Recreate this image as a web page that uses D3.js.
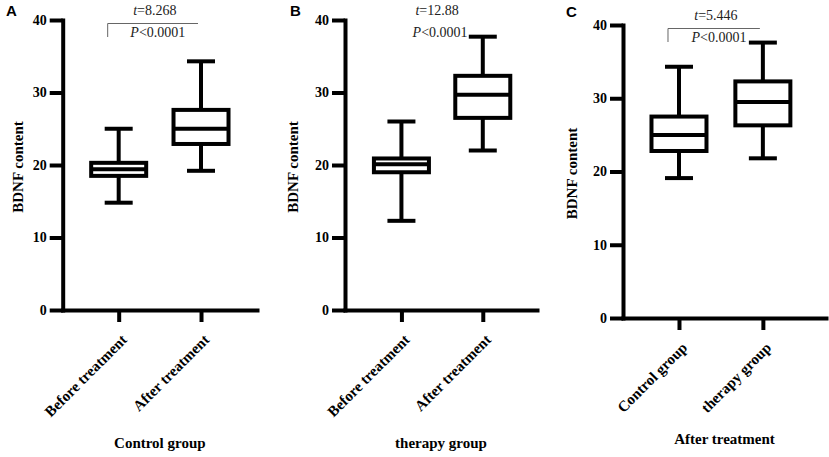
<!DOCTYPE html>
<html>
<head>
<meta charset="utf-8">
<script src="https://cdn.jsdelivr.net/npm/d3@7"></script>
<style>
  body { margin: 0; background: #fff; }
</style>
</head>
<body>
<script>
// chart values
const panelLetters = ["A", "B", "C"];
const groupTitles = ["Control group", "therapy group", "After treatment"];
const categoriesA = ["Before treatment", "After treatment"];
const categoriesB = ["Before treatment", "After treatment"];
const categoriesC = ["Control group", "therapy group"];

// [min, q1, median, q3, max]
const boxesA = [[14.8, 18.5, 19.4, 20.3, 25.0], [19.2, 22.9, 25.0, 27.6, 34.3]];
const boxesB = [[12.3, 19.0, 20.1, 20.9, 26.0], [22.0, 26.5, 29.7, 32.3, 37.7]];
const boxesC = [[19.1, 22.8, 25.0, 27.5, 34.3], [21.8, 26.3, 29.5, 32.3, 37.6]];

const tValues = ["8.268", "12.88", "5.446"];
const pValues = ["<0.0001", "<0.0001", "<0.0001"];
const yTicks = [0, 10, 20, 30, 40];

const categories = [categoriesA, categoriesB, categoriesC];
const boxes = [boxesA, boxesB, boxesC];

// layout of each panel
const layout = [
  { left: 62.7, right: 257, top: 20, bottom: 310, pad: 0.68, align: 0.5, yTitleX: 23, titleY: 448, letterX: 6, letterY: 16, bracket: true },
  { left: 345, right: 537, top: 20, bottom: 310, pad: 0.68, align: 0.51, yTitleX: 298, titleY: 448, letterX: 290, letterY: 16, bracket: false },
  { left: 623, right: 826, top: 25, bottom: 318, pad: 0.71, align: 0.47, yTitleX: 577, titleY: 444, letterX: 566, letterY: 17, bracket: true }
];

const serif = "'Liberation Serif', 'Times New Roman', serif";
const boxWidth = 55;
const capWidth = 28;
const lineW = 4;

let svg = d3.select("body").append("svg")
  .attr("width", 829)
  .attr("height", 457);

layout.forEach((L, i) => {
  let cats = categories[i];
  let g = svg.append("g");

  let x = d3.scalePoint().domain(cats).range([L.left, L.right]).padding(L.pad).align(L.align);
  let y = d3.scaleLinear().domain([0, 40]).range([L.bottom, L.top]);

  // y axis
  let yAxis = g.append("g")
    .attr("transform", `translate(${L.left},0)`)
    .call(d3.axisLeft(y).tickValues(yTicks).tickSize(13).tickPadding(3).tickSizeOuter(0));
  yAxis.attr("font-family", serif).attr("font-size", 14).attr("font-weight", "bold");
  yAxis.select(".domain").attr("stroke-width", lineW).attr("stroke-linecap", "square");
  yAxis.selectAll(".tick line").attr("stroke-width", lineW);
  yAxis.selectAll(".tick text").attr("fill", "#000");

  // x axis
  let xAxis = g.append("g")
    .attr("transform", `translate(0,${L.bottom})`)
    .call(d3.axisBottom(x).tickSize(12).tickSizeOuter(0));
  xAxis.attr("font-family", serif).attr("font-size", 15).attr("font-weight", "bold");
  xAxis.select(".domain").attr("stroke-width", lineW).attr("stroke-linecap", "square");
  xAxis.selectAll(".tick line").attr("stroke-width", lineW);
  xAxis.selectAll(".tick text")
    .attr("fill", "#000")
    .attr("x", 0)
    .attr("y", 0)
    .attr("dy", "0.35em")
    .attr("text-anchor", "end")
    .attr("transform", "translate(5,27) rotate(-45)");

  // boxes
  let bx = g.selectAll(".box")
    .data(boxes[i])
    .join("g")
    .attr("class", "box")
    .attr("transform", (d, j) => `translate(${x(cats[j])},0)`)
    .attr("stroke", "#000")
    .attr("stroke-width", lineW)
    .attr("fill", "none");

  bx.append("line")
    .attr("y1", d => y(d[0])).attr("y2", d => y(d[1]));
  bx.append("line")
    .attr("y1", d => y(d[3])).attr("y2", d => y(d[4]));
  bx.append("line")
    .attr("x1", -capWidth / 2).attr("x2", capWidth / 2)
    .attr("y1", d => y(d[0])).attr("y2", d => y(d[0]));
  bx.append("line")
    .attr("x1", -capWidth / 2).attr("x2", capWidth / 2)
    .attr("y1", d => y(d[4])).attr("y2", d => y(d[4]));
  bx.append("rect")
    .attr("x", -boxWidth / 2)
    .attr("width", boxWidth)
    .attr("y", d => y(d[3]))
    .attr("height", d => y(d[1]) - y(d[3]))
    .attr("fill", "#fff");
  bx.append("line")
    .attr("x1", -boxWidth / 2).attr("x2", boxWidth / 2)
    .attr("y1", d => y(d[2])).attr("y2", d => y(d[2]));

  // significance annotation
  let x1 = x(cats[0]), x2 = x(cats[1]);
  let mid = (x1 + x2) / 2 - 5;
  if (L.bracket) {
    g.append("path")
      .attr("d", `M${x1 - 11},${L.top + 17}V${L.top + 3.5}H${x2 - 3}`)
      .attr("fill", "none")
      .attr("stroke", "#666")
      .attr("stroke-width", 1);
  }
  let tText = g.append("text")
    .attr("x", mid).attr("y", L.top - 5)
    .attr("text-anchor", "middle")
    .attr("font-family", serif).attr("font-size", 14)
    .attr("fill", "#222");
  tText.append("tspan").attr("font-style", "italic").text("t");
  tText.append("tspan").text("=" + tValues[i]);

  let pText = g.append("text")
    .attr("x", mid + 3).attr("y", L.top + 16.5)
    .attr("text-anchor", "middle")
    .attr("font-family", serif).attr("font-size", 14)
    .attr("fill", "#222");
  pText.append("tspan").attr("font-style", "italic").text("P");
  pText.append("tspan").text(pValues[i]);

  // titles
  g.append("text")
    .attr("transform", `translate(${L.yTitleX},${(L.top + L.bottom) / 2 + 2}) rotate(-90)`)
    .attr("text-anchor", "middle")
    .attr("font-family", serif).attr("font-size", 15).attr("font-weight", "bold")
    .text("BDNF content");

  g.append("text")
    .attr("x", (L.left + L.right) / 2)
    .attr("y", L.titleY)
    .attr("text-anchor", "middle")
    .attr("font-family", serif).attr("font-size", 15).attr("font-weight", "bold")
    .text(groupTitles[i]);

  g.append("text")
    .attr("x", L.letterX).attr("y", L.letterY)
    .attr("font-family", "'Liberation Sans', Arial, sans-serif")
    .attr("font-size", 15).attr("font-weight", "bold")
    .text(panelLetters[i]);
});
</script>
</body>
</html>
